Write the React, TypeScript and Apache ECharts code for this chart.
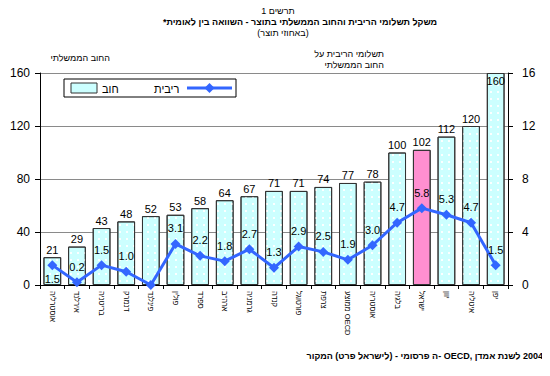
import React, { useEffect, useRef } from "react";
import * as echarts from "echarts";

const countries = [
  "אוסטרליה",
  "אירלנד",
  "בריטניה",
  "דנמרק",
  "פינלנד",
  "פולין",
  "ספרד",
  "ארה\"ב",
  "גרמניה",
  "קנדה",
  "פורטוגל",
  "צרפת",
  "ממוצע OECD",
  "אוסטריה",
  "בלגיה",
  "ישראל",
  "יוון",
  "איטליה",
  "יפן",
];
const debt = [21, 29, 43, 48, 52, 53, 58, 64, 67, 71, 71, 74, 77, 78, 100, 102, 112, 120, 160];
const interest = [1.5, 0.2, 1.5, 1.0, 0, 3.1, 2.2, 1.8, 2.7, 1.3, 2.9, 2.5, 1.9, 3.0, 4.7, 5.8, 5.3, 4.7, 1.5];
const highlight = "ישראל";

const leftTicks = { min: 0, max: 160, interval: 40 };
const rightTicks = { min: 0, max: 16, interval: 4 };

const FONT = "'Liberation Sans', Arial, 'DejaVu Sans', sans-serif";
const LRM = "\u200E";
const footerWords = ["המקור", "(פרט", "לישראל)", "-", "פרסומי", "ה-", "OECD,", "אמדן", "לשנת", "2004"];

export default function App() {
  const ref = useRef<HTMLDivElement>(null);
  useEffect(() => {
    if (!ref.current) return;
    const chart = echarts.init(ref.current, undefined, { renderer: "svg" });
    const dots = {
      symbol: "rect",
      symbolSize: 1,
      color: "rgba(255,255,255,0.95)",
      dashArrayX: [1.5, 5],
      dashArrayY: [1.5, 5],
      rotation: 0,
    };
    const barData = debt.map((v, i) => ({
      value: v,
      itemStyle:
        countries[i] === highlight
          ? { color: "#ff8fd0", borderColor: "#333", borderWidth: 1, decal: { ...dots, color: "rgba(255,255,255,0)" } }
          : undefined,
      label: v >= leftTicks.max ? { position: "insideTop" } : undefined,
    }));
    const lineData = interest.map((v, i) => ({
      value: v,
      label:
        i === 0
          ? { position: "bottom", distance: 3 }
          : v === 0
          ? { show: false }
          : undefined,
    }));
    chart.setOption({
      animation: false,
      textStyle: { fontFamily: FONT },
      grid: { left: 40, right: 42, top: 73, bottom: 91 },
      xAxis: {
        type: "category",
        data: countries,
        axisLine: { lineStyle: { color: "#000", width: 1 } },
        axisTick: { show: true, length: 4, lineStyle: { color: "#000" } },
        axisLabel: { rotate: -90, fontSize: 7.5, color: "#000", margin: 6, fontFamily: FONT },
      },
      yAxis: [
        {
          type: "value",
          ...leftTicks,
          position: "left",
          axisLine: { show: true, lineStyle: { color: "#000" } },
          axisTick: { show: true, length: 5, lineStyle: { color: "#000" } },
          axisLabel: { fontSize: 12, color: "#000", margin: 10, fontFamily: FONT },
          splitLine: { show: true, lineStyle: { color: "#8a8a8a", width: 1 } },
        },
        {
          type: "value",
          ...rightTicks,
          position: "right",
          axisLine: { show: true, lineStyle: { color: "#000" } },
          axisTick: { show: true, length: 5, lineStyle: { color: "#000" } },
          axisLabel: { fontSize: 12, color: "#000", margin: 14, fontFamily: FONT },
          splitLine: { show: false },
        },
      ],
      series: [
        {
          type: "bar",
          name: "חוב",
          data: barData,
          yAxisIndex: 0,
          barCategoryGap: "28%",
          itemStyle: { color: "#ccffff", borderColor: "#333", borderWidth: 1, decal: dots },
          label: { show: true, position: "top", color: "#000", fontSize: 11, distance: 2, fontFamily: FONT },
        },
        {
          type: "line",
          name: "ריבית",
          data: lineData,
          yAxisIndex: 1,
          symbol: "diamond",
          symbolSize: 10,
          lineStyle: { color: "#3366ff", width: 3 },
          itemStyle: { color: "#3366ff" },
          label: {
            show: true,
            position: "top",
            distance: 5,
            color: "#000",
            fontSize: 11,
            fontFamily: FONT,
            formatter: (p: any) => Number(p.value).toFixed(1),
          },
        },
      ],
      graphic: [
        {
          type: "text",
          x: 278,
          y: 11,
          style: { text: "תרשים 1", font: `9px ${FONT}`, fill: "#000", align: "center", verticalAlign: "middle" },
        },
        {
          type: "text",
          x: 300,
          y: 22,
          style: {
            text: "\u202Bמשקל תשלומי הריבית והחוב הממשלתי בתוצר - השוואה בין לאומית*\u202C",
            font: `bold 9px ${FONT}`,
            fill: "#000",
            align: "center",
            verticalAlign: "middle",
          },
        },
        {
          type: "text",
          x: 283,
          y: 33,
          style: { text: "(באחוזי תוצר)", font: `9px ${FONT}`, fill: "#000", align: "center", verticalAlign: "middle" },
        },
        {
          type: "text",
          x: 110,
          y: 58,
          style: { text: "החוב הממשלתי", font: `9px ${FONT}`, fill: "#000", align: "right", verticalAlign: "middle" },
        },
        {
          type: "text",
          x: 384,
          y: 54,
          style: { text: "תשלומי הריבית על", font: `9px ${FONT}`, fill: "#000", align: "right", verticalAlign: "middle" },
        },
        {
          type: "text",
          x: 384,
          y: 65,
          style: { text: "החוב הממשלתי", font: `9px ${FONT}`, fill: "#000", align: "right", verticalAlign: "middle" },
        },
        {
          type: "group",
          x: 64,
          y: 79,
          children: [
            { type: "rect", shape: { x: 0, y: 0, width: 172, height: 18 }, style: { fill: "#fff", stroke: "#000", lineWidth: 1 } },
            { type: "rect", shape: { x: 7, y: 4, width: 26, height: 10 }, style: { fill: "#ccffff", stroke: "#333", lineWidth: 1 } },
            { type: "text", x: 38, y: 9.5, style: { text: "חוב", font: `11px ${FONT}`, fill: "#000", verticalAlign: "middle" } },
            { type: "text", x: 90, y: 9.5, style: { text: "ריבית", font: `11px ${FONT}`, fill: "#000", verticalAlign: "middle" } },
            { type: "line", shape: { x1: 123, y1: 9, x2: 168, y2: 9 }, style: { stroke: "#3366ff", lineWidth: 3 } },
            {
              type: "polygon",
              shape: { points: [[145.5, 4], [150.5, 9], [145.5, 14], [140.5, 9]] },
              style: { fill: "#3366ff" },
            },
          ],
        },
        {
          type: "text",
          x: 543,
          y: 356,
          style: {
            text: "\u202A" + footerWords.join(" " + LRM) + "\u202C",
            font: `bold 9px ${FONT}`,
            fill: "#000",
            align: "right",
            verticalAlign: "middle",
          },
        },
      ],
    });
    return () => chart.dispose();
  }, []);
  return <div ref={ref} style={{ width: 550, height: 376, margin: "-8px" }} />;
}
